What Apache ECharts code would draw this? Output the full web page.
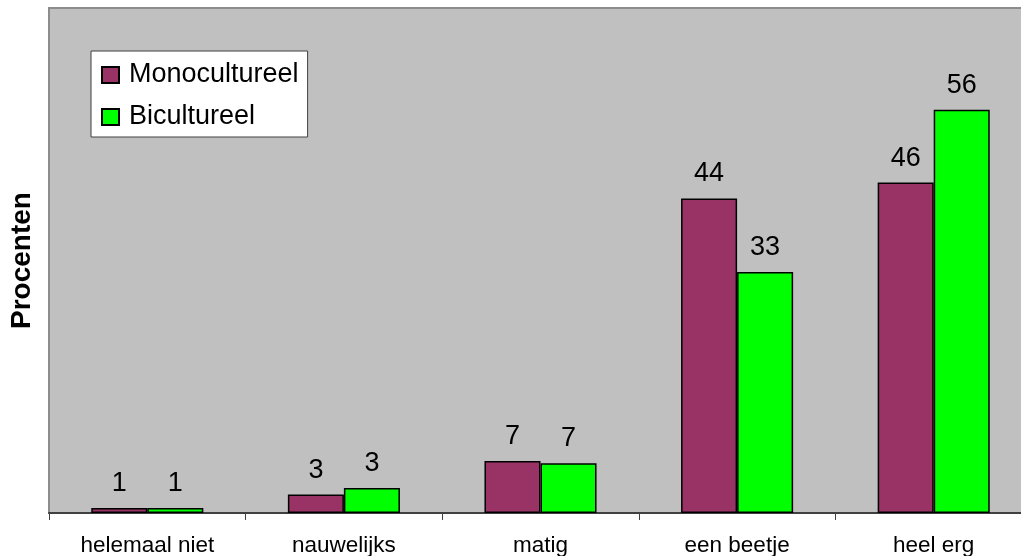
<!DOCTYPE html>
<html>
<head>
<meta charset="utf-8">
<script src="https://cdn.jsdelivr.net/npm/echarts@6/dist/echarts.min.js"></script>
<style>
html,body{margin:0;padding:0;background:#fff;}
#chart{width:1021px;height:556px;}
</style>
</head>
<body>
<div id="chart"></div>
<script>
var categories = ['helemaal niet', 'nauwelijks', 'matig', 'een beetje', 'heel erg'];
var seriesNames = ['Monocultureel', 'Bicultureel'];
var monoValues = [0.7, 2.55, 7.2, 43.6, 45.8];
var biValues = [0.7, 3.45, 6.9, 33.4, 55.9];
var yName = 'Procenten';

var FONT = '"Liberation Sans", Arial, sans-serif';
var chart = echarts.init(document.getElementById('chart'), null, {renderer: 'canvas'});

function labelCfg() {
  return {
    show: true,
    position: 'top',
    distance: 11,
    color: '#000',
    fontFamily: FONT,
    fontSize: 27,
    formatter: function (p) { return Math.round(p.value); }
  };
}

chart.setOption({
  animation: false,
  backgroundColor: '#ffffff',
  grid: {
    show: true,
    left: 49, top: 8, bottom: 43, right: -11,
    outerBoundsMode: 'none',
    containLabel: false,
    backgroundColor: '#c0c0c0',
    borderColor: '#8c8c8c',
    borderWidth: 2
  },
  legend: {
    orient: 'vertical',
    left: 91, top: 51,
    padding: [9, 9, 5, 10],
    itemGap: 12,
    itemWidth: 17,
    itemHeight: 16,
    icon: 'rect',
    backgroundColor: '#ffffff',
    borderColor: '#404040',
    borderWidth: 1,
    borderRadius: 0,
    textStyle: { color: '#000', fontFamily: FONT, fontSize: 27, lineHeight: 30, padding: [0, 0, 0, 5] },
    data: seriesNames
  },
  xAxis: {
    type: 'category',
    data: categories,
    boundaryGap: true,
    axisLine: { show: true, lineStyle: { color: '#404040', width: 2 } },
    axisTick: { show: true, length: 7, lineStyle: { color: '#404040', width: 1 } },
    axisLabel: { color: '#000', fontFamily: FONT, fontSize: 22.5, margin: 21, interval: 0 },
    splitLine: { show: false }
  },
  yAxis: {
    type: 'value',
    min: 0, max: 70,
    axisLine: { show: false },
    axisTick: { show: false },
    axisLabel: { show: false },
    splitLine: { show: false },
    name: yName,
    nameLocation: 'middle',
    nameGap: 13,
    nameTextStyle: { color: '#000', fontFamily: FONT, fontSize: 28, fontWeight: 'bold' }
  },
  series: [
    {
      name: seriesNames[0],
      type: 'bar',
      data: monoValues,
      barGap: '0%',
      barCategoryGap: '43%',
      itemStyle: { color: '#993366', borderColor: '#000', borderWidth: 1.5 },
      label: labelCfg()
    },
    {
      name: seriesNames[1],
      type: 'bar',
      data: biValues,
      barGap: '0%',
      barCategoryGap: '43%',
      itemStyle: { color: '#00ff00', borderColor: '#000', borderWidth: 1.5 },
      label: labelCfg()
    }
  ]
});
</script>
</body>
</html>
